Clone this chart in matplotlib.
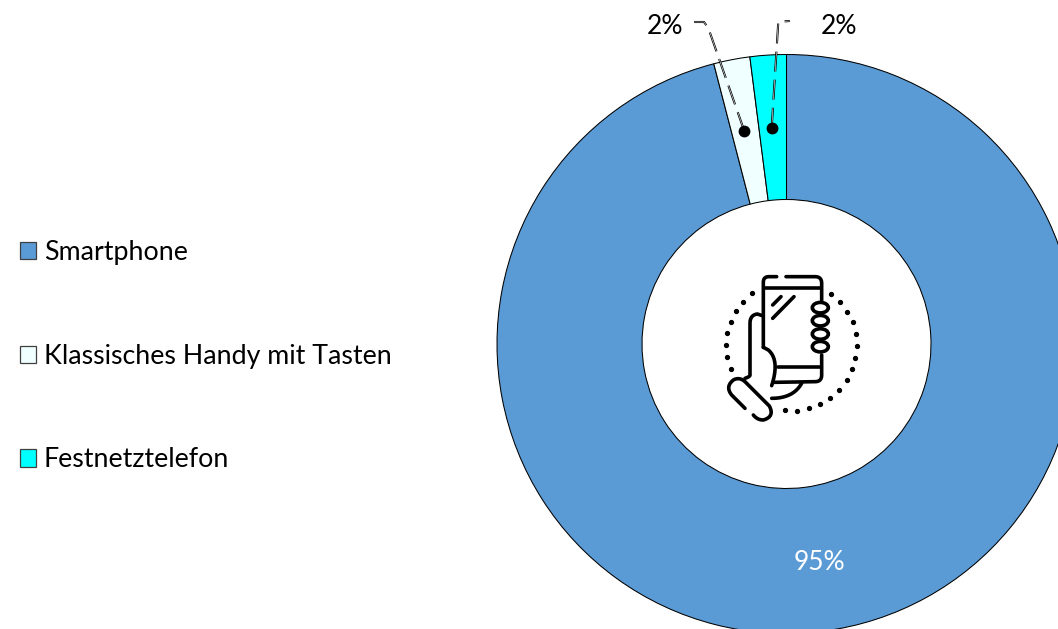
import numpy as np
import matplotlib
matplotlib.use('Agg')
import matplotlib.pyplot as plt
from matplotlib.patches import Ellipse

plt.rcParams['font.family'] = ['Lato', 'DejaVu Sans']

categories = ['Smartphone', 'Klassisches Handy mit Tasten', 'Festnetztelefon']
values = [95, 2, 2]
value_labels = ['95%', '2%', '2%']
colors = ['#5B9BD5', '#F0FFFF', '#00FFFF']

W, H = 1058, 629
fig = plt.figure(figsize=(W / 100, H / 100), dpi=100)
ax = fig.add_axes([0, 0, 1, 1])

# donut, the axes is in pixels with y up
wedges, _ = ax.pie(values, colors=colors, startangle=90, counterclock=False,
                   center=(786.5, H - 344), radius=289.5,
                   wedgeprops=dict(width=145, edgecolor='black', linewidth=0.75))
ax.set_xlim(0, W)
ax.set_ylim(0, H)
ax.set_aspect('equal')
ax.axis('off')

leg = ax.legend(wedges, categories, loc='upper left', bbox_to_anchor=(14.5 / W, 1 - 235 / H),
                frameon=False, fontsize=19.3, handlelength=0.6, handleheight=0.6,
                handletextpad=0.3, labelspacing=2.93, borderaxespad=0, borderpad=0.2)
for h in leg.legend_handles:
    h.set_edgecolor('#404040')
    h.set_linewidth(0.9)

ax.text(819.5, H - 563, value_labels[0], color='white', fontsize=19, ha='center', va='center')
ax.text(665, H - 26.5, value_labels[1], color='black', fontsize=19, ha='center', va='center')
ax.text(838.5, H - 26.5, value_labels[2], color='black', fontsize=19, ha='center', va='center')


def leader(xs, ys):
    ys = [H - y for y in ys]
    ax.plot(xs, ys, color='black', lw=1.5, dashes=(9.6, 3.9), dash_capstyle='butt')
    ax.plot(xs, ys, color='white', lw=0.4, dashes=(36, 14.6), dash_capstyle='butt')


leader([744.3, 708.3, 704, 694], [131, 28, 22, 22])
leader([771.7, 778.3, 790], [127.7, 21.7, 21])
ax.plot([744.3, 771.7], [H - 131, H - 127.7], 'o', color='black', ms=7.5, ls='none')


# icon, coordinates taken from a 3x crop starting at (700, 260)
def icon_xy(pts):
    pts = np.asarray(pts, dtype=float)
    return 700 + pts[:, 0] / 3, H - (260 + pts[:, 1] / 3)


def curve(p0, c, p1, n=12):
    t = np.linspace(0, 1, n)[:, None]
    p0, c, p1 = np.array(p0), np.array(c), np.array(p1)
    return (1 - t) ** 2 * p0 + 2 * t * (1 - t) * c + t ** 2 * p1


def stroke(*parts):
    pts = np.vstack([np.atleast_2d(p) for p in parts])
    x, y = icon_xy(pts)
    ax.plot(x, y, color='black', lw=2.6, solid_capstyle='round', solid_joinstyle='round')


dots = [(157, 100), (130, 125), (108, 153), (92, 185), (82, 220), (78, 256), (82, 292), (92, 327),
        (393, 101), (421, 127), (442, 155), (458, 187), (467, 222), (470, 258), (466, 294), (456, 328),
        (440, 361), (418, 390), (391, 414), (359, 433), (326, 445), (290, 452), (254, 451)]
dx, dy = icon_xy(dots)
ax.plot(dx, dy, 'o', color='black', ms=2.8, ls='none')

# phone body
stroke((230, 50), curve((207, 50), (190, 50), (190, 67)), (190, 262))
stroke((258, 50), curve((345, 50), (365, 50), (365, 70)), (365, 122))
stroke((365, 285), curve((365, 345), (365, 365), (345, 365)), (222, 367))
stroke((195, 85), (362, 85))
stroke((235, 322), (362, 322))
stroke((218, 135), (243, 110))
stroke((218, 175), (282, 110))
for cy in [143, 182, 222, 260]:
    x, y = icon_xy([(361, cy)])
    ax.add_patch(Ellipse((x[0], y[0]), 16, 10.5, facecolor='white', edgecolor='black', lw=2.6, zorder=3))
# hand
stroke((190, 168), curve((172, 162), (150, 165), (150, 190)), curve((150, 345), (150, 350), (135, 355)))
stroke((190, 262), curve((205, 270), (240, 300), (215, 377)))
stroke((135, 445), (95, 405), curve((95, 405), (75, 380), (100, 360)), curve((100, 360), (118, 350), (135, 365)),
       (208, 438), curve((208, 438), (225, 470), (190, 480)), curve((190, 480), (172, 480), (160, 465)))
stroke(curve((215, 415), (280, 415), (305, 370)))

fig.savefig('out.png', dpi=100)
